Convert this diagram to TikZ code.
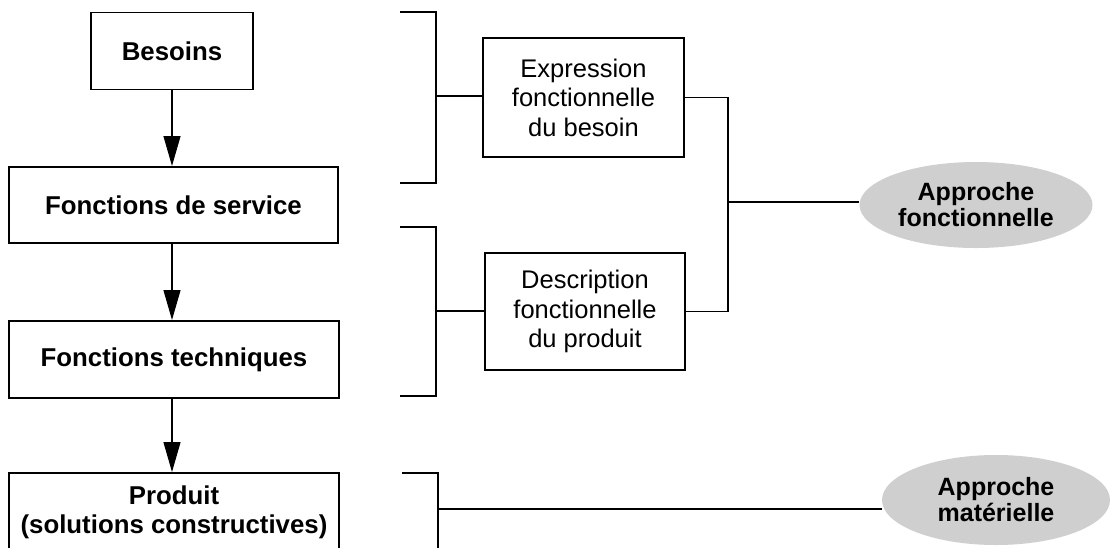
\documentclass[tikz,border=0pt]{standalone}
\usepackage{fontspec}
\setmainfont{Liberation Sans}
\usetikzlibrary{arrows.meta,shapes.geometric,calc}
\begin{document}
\begin{tikzpicture}[x=1pt,y=-1pt,
  line/.style={line width=1.2pt,black},
  mainbox/.style={draw,line width=1.2pt,inner sep=0pt,align=center,
    font=\fontsize{25.8}{29}\selectfont\bfseries},
  midbox/.style={draw,line width=1.2pt,inner sep=0pt,align=center,
    minimum width=200pt,font=\fontsize{25.5}{29.5}\selectfont},
  approach/.style={ellipse,fill=gray!38,inner sep=0pt,align=center,
    font=\fontsize{25}{26}\selectfont\bfseries},
  arr/.style={line,-{Triangle[width=17pt,length=30pt]}}]
\clip (0,0) rectangle (1110,547);
\fill[white] (0,0) rectangle (1110,547);

% left column
\node[mainbox,minimum width=162pt,minimum height=77pt] (bes) at (172,51) {Besoins};
\node[mainbox,minimum width=329pt,minimum height=76pt] (serv) at (173.5,205) {Fonctions de service};
\node[mainbox,minimum width=330pt,minimum height=77pt] (tech) at (174,359.5) {Fonctions techniques};
\node[mainbox,minimum width=330pt,minimum height=78pt] (prod) at (174,512) {Produit\\(solutions constructives)};

\draw[arr] (bes.south -| 172,0) -- (172,166);
\draw[arr] (serv.south -| 172,0) -- (172,320);
\draw[arr] (tech.south -| 172,0) -- (172,472);

% middle boxes
\node[midbox,minimum width=201pt,minimum height=119pt] (expr) at (583.5,97.5) {Expression\\fonctionnelle\\du besoin};
\node[midbox,minimum width=200pt,minimum height=117pt] (desc) at (585,311.5) {Description\\fonctionnelle\\du produit};

% ellipses
\node[approach,minimum width=233pt,minimum height=86pt] (ell1) at (976,205) {Approche\\fonctionnelle};
\node[approach,minimum width=228pt,minimum height=90pt] (ell2) at (996,500) {Approche\\matérielle};

% brackets
\coordinate (b1t) at (400,12);
\coordinate (b1b) at (400,183);
\coordinate (b1m) at (436,96);
\draw[line] (b1t) -- (436,12) -- (436,183) -- (b1b);
\draw[line] (b1m) -- (b1m -| expr.west);

\coordinate (b2t) at (400,227);
\coordinate (b2b) at (400,396);
\coordinate (b2m) at (436,311);
\draw[line] (b2t) -- (436,227) -- (436,396) -- (b2b);
\draw[line] (b2m) -- (b2m -| desc.west);

\coordinate (b3t) at (402,473);
\coordinate (b3m) at (438,509);
\draw[line] (b3t) -- (438,473) -- (438,560);
\draw[line] (b3m) -- (b3m -| ell2.west);

% right connectors
\coordinate (j1) at (728,202);
\draw[line] (expr.east) -| (j1);
\draw[line] (desc.east) -| (j1);
\draw[line] (j1) -- (j1 -| ell1.west);
\end{tikzpicture}
\end{document}
